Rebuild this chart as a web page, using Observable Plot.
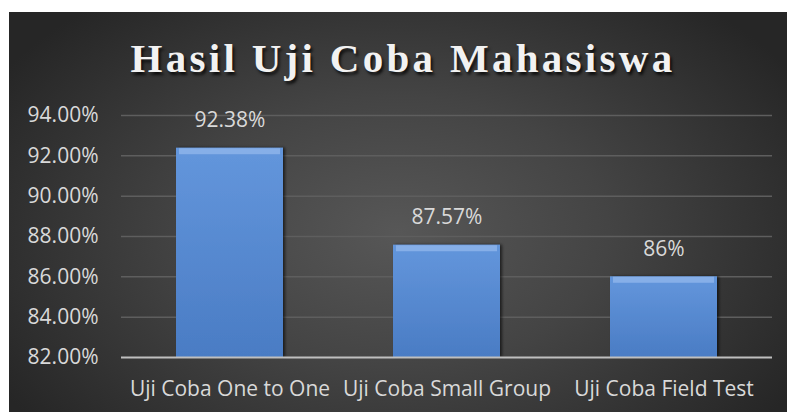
<!DOCTYPE html>
<html><head><meta charset="utf-8">
<script src="https://cdn.jsdelivr.net/npm/d3@7"></script>
<script src="https://cdn.jsdelivr.net/npm/@observablehq/plot@0.6"></script>
<style>
html,body{margin:0;padding:0;background:#fff;}
#wrap{position:relative;width:787px;height:412px;overflow:hidden;}
#bg{position:absolute;left:9px;top:12px;width:778px;height:400px;
  background:radial-gradient(ellipse 60% 75% at 50% 55%, #575757 0%, #444 45%, #262626 100%);}
#title{position:absolute;left:14px;top:34px;width:778px;text-align:center;
  font-family:"Liberation Serif","DejaVu Serif",serif;font-weight:bold;font-size:41px;
  letter-spacing:3.3px;color:#f2f2f2;text-shadow:2px 3px 3px rgba(0,0,0,0.75);}
#chart{position:absolute;left:0;top:0;}
</style></head>
<body><div id="wrap"><div id="bg"></div><div id="title">Hasil Uji Coba Mahasiswa</div><div id="chart"></div></div>
<script>
const categories = ["Uji Coba One to One", "Uji Coba Small Group", "Uji Coba Field Test"];
const values = [92.38, 87.57, 86];
const valueLabels = ["92.38%", "87.57%", "86%"];
const yTicks = [82, 84, 86, 88, 90, 92, 94];

const data = categories.map((c, i) => ({cat: c, v: values[i], label: valueLabels[i]}));

const plot = Plot.plot({
  width: 787, height: 412,
  marginLeft: 121, marginRight: 15, marginTop: 115, marginBottom: 55,
  style: {background: "transparent", fontFamily: "'Open Sans', sans-serif", fontSize: "21px", color: "#d9d9d9"},
  x: {domain: categories, paddingInner: 0.507, paddingOuter: 0.2535, label: null, tickSize: 0, tickPadding: 24},
  y: {domain: [82, 94], ticks: yTicks, label: null, tickSize: 0, tickPadding: 23,
      tickFormat: d => d.toFixed(2) + "%"},
  marks: [
    Plot.gridY(yTicks.filter(t => t > 82), {stroke: "#5e5e5e", strokeOpacity: 1, strokeWidth: 1.5}),
    Plot.barY(data, {x: "cat", y1: 82, y2: "v", fill: "url(#barGrad)",
      render: (i, s, v, d, c, next) => { const g = next(i, s, v, d, c); g.setAttribute("filter", "url(#barShadow)"); return g; }}),
    Plot.tickY(data, {x: "cat", y: "v", stroke: "#8db4ea", strokeOpacity: 0.85, strokeWidth: 6, dy: 3, insetLeft: 3, insetRight: 3}),
    Plot.ruleY([82], {stroke: "#bfbfbf", strokeWidth: 2}),
    Plot.text(data, {x: "cat", y: "v", text: "label", dy: -28, fill: "#d9d9d9", fontSize: 21})
  ]
});

const svg = d3.select(plot);
const defs = svg.insert("defs", ":first-child");
const lg = defs.append("linearGradient").attr("id", "barGrad").attr("x1", 0).attr("y1", 0).attr("x2", 0).attr("y2", 1);
lg.append("stop").attr("offset", "0%").attr("stop-color", "#6396dc");
lg.append("stop").attr("offset", "100%").attr("stop-color", "#4a7cc4");
const f = defs.append("filter").attr("id", "barShadow").attr("x", "-10%").attr("y", "-10%").attr("width", "130%").attr("height", "120%");
f.append("feDropShadow").attr("dx", 2).attr("dy", 0).attr("stdDeviation", 1.5).attr("flood-color", "#000").attr("flood-opacity", 0.6);
document.getElementById("chart").appendChild(plot);
</script>
</body></html>
